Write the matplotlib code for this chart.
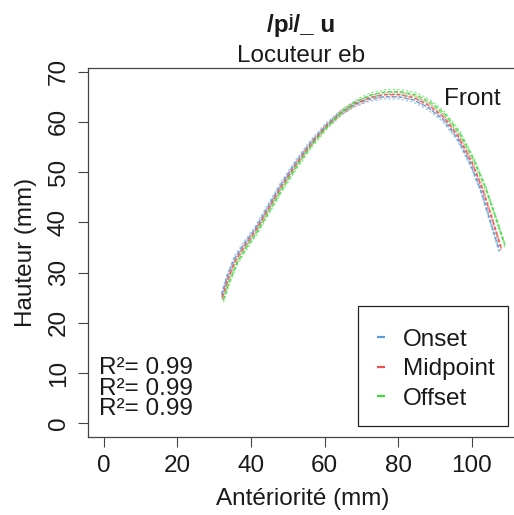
import matplotlib
matplotlib.use("Agg")
import matplotlib.pyplot as plt
from matplotlib.lines import Line2D
from matplotlib.patches import Rectangle
from matplotlib.transforms import offset_copy

plt.rcParams['font.family'] = ['Liberation Sans', 'DejaVu Sans']

# ---- data ----
x_onset = [32.0, 33.5, 35.5, 38.0, 41.0, 44.5, 48.0, 52.0, 56.0, 60.0, 64.0, 68.0,
           72.0, 76.0, 80.0, 84.0, 88.0, 92.0, 96.0, 99.5, 102.5, 105.0, 107.5]
y_onset = [25.5, 29.2, 32.8, 35.6, 38.6, 43.0, 47.4, 51.8, 55.7, 59.0, 61.6, 63.4,
           64.5, 65.0, 65.0, 64.4, 62.9, 60.6, 56.8, 51.8, 46.3, 40.3, 34.3]
x_mid = [32.2, 33.8, 35.8, 38.3, 41.3, 44.8, 48.3, 52.3, 56.3, 60.3, 64.3, 68.3,
         72.3, 76.3, 80.3, 84.3, 88.3, 92.3, 96.3, 100.0, 103.0, 105.6, 108.0]
y_mid = [25.0, 28.8, 32.4, 35.3, 38.4, 42.8, 47.2, 51.6, 55.6, 59.0, 61.7, 63.6,
         64.8, 65.4, 65.4, 64.8, 63.3, 61.0, 57.2, 52.0, 46.5, 40.6, 34.8]
x_off = [32.5, 34.2, 36.3, 38.8, 41.8, 45.3, 48.8, 52.8, 56.8, 60.8, 64.8, 68.8,
         72.8, 76.8, 80.8, 84.8, 88.8, 92.8, 96.8, 100.6, 103.8, 106.5, 109.0]
y_off = [24.5, 28.3, 32.0, 35.0, 38.2, 42.6, 47.0, 51.5, 55.6, 59.1, 62.0, 64.1,
         65.4, 66.0, 66.0, 65.4, 63.9, 61.5, 57.7, 52.4, 46.8, 41.0, 35.5]

series_names = ["Onset", "Midpoint", "Offset"]
series_x = [x_onset, x_mid, x_off]
series_y = [y_onset, y_mid, y_off]
colors = ["#5B9BD5", "#E8534F", "#3FD93F"]
r2_labels = ["R²= 0.99", "R²= 0.99", "R²= 0.99"]
xticks = [0, 20, 40, 60, 80, 100]
yticks = [0, 10, 20, 30, 40, 50, 60, 70]

FS = 17.5
TXT = '#1a1a1a'
fig = plt.figure(figsize=(5.14, 5.15), dpi=100)
ax = fig.add_axes([0.171, 0.1515, 0.835, 0.7165])

for xs, ys, c in zip(series_x, series_y, colors):
    ax.plot(xs, ys, color=c, lw=1.0, ls=(0, (3, 1.5)), alpha=0.9, zorder=3)
    for dy in (-1.6, 1.6):
        tr = offset_copy(ax.transData, fig=fig, x=0, y=dy, units='points')
        ax.plot(xs, ys, color=c, lw=0.9, ls=(0, (2, 1.5)), alpha=0.55, transform=tr, zorder=2)

ax.set_xlim(-4.32, 112.32)
ax.set_ylim(-2.72, 70.72)
ax.set_xticks(xticks)
ax.set_yticks(yticks)
ax.tick_params(axis='both', direction='out', length=7, width=0.8, color='#444444',
               labelsize=FS, labelcolor=TXT, pad=6)
for lab in ax.get_yticklabels():
    lab.set_rotation(90)
    lab.set_va('center')
for s in ax.spines.values():
    s.set_color('#444444')
    s.set_linewidth(0.9)

ax.set_xlabel("Antériorité (mm)", fontsize=FS, color=TXT, labelpad=8)
ax.set_ylabel("Hauteur (mm)", fontsize=FS, color=TXT, labelpad=8)

ax.text(92.5, 64.6, "Front", fontsize=FS, color=TXT, ha='left', va='center')

ax.text(-1.2, 6.9, "\n".join(r2_labels), fontsize=FS, color=TXT, ha='left',
        va='center', linespacing=0.9)

# legend frame drawn separately, legend entries without frame
ax.add_patch(Rectangle((0.629, 0.0298), 0.9786 - 0.629, 0.355 - 0.0298,
                       transform=ax.transAxes, fill=True, facecolor='white',
                       edgecolor='#222222', lw=0.9, zorder=4))
handles = [Line2D([], [], ls='none', marker='_', ms=6, mew=1.6, color=c) for c in colors]
leg = ax.legend(handles, series_names, loc='center left', bbox_to_anchor=(0.669, 0.184),
                fontsize=FS, frameon=False, borderpad=0.0,
                handlelength=0.5, handletextpad=0.66, labelspacing=0.31,
                borderaxespad=0.0)
leg.set_zorder(5)
for t in leg.get_texts():
    t.set_color(TXT)

fig.text(0.586, 1 - 32 / 515, "/pʲ/_ u", fontsize=FS, fontweight='bold', ha='center',
         va='baseline', color=TXT)
fig.text(0.586, 1 - 62 / 515, "Locuteur eb", fontsize=FS, ha='center', va='baseline',
         color=TXT)

fig.savefig("out.png", dpi=100)
